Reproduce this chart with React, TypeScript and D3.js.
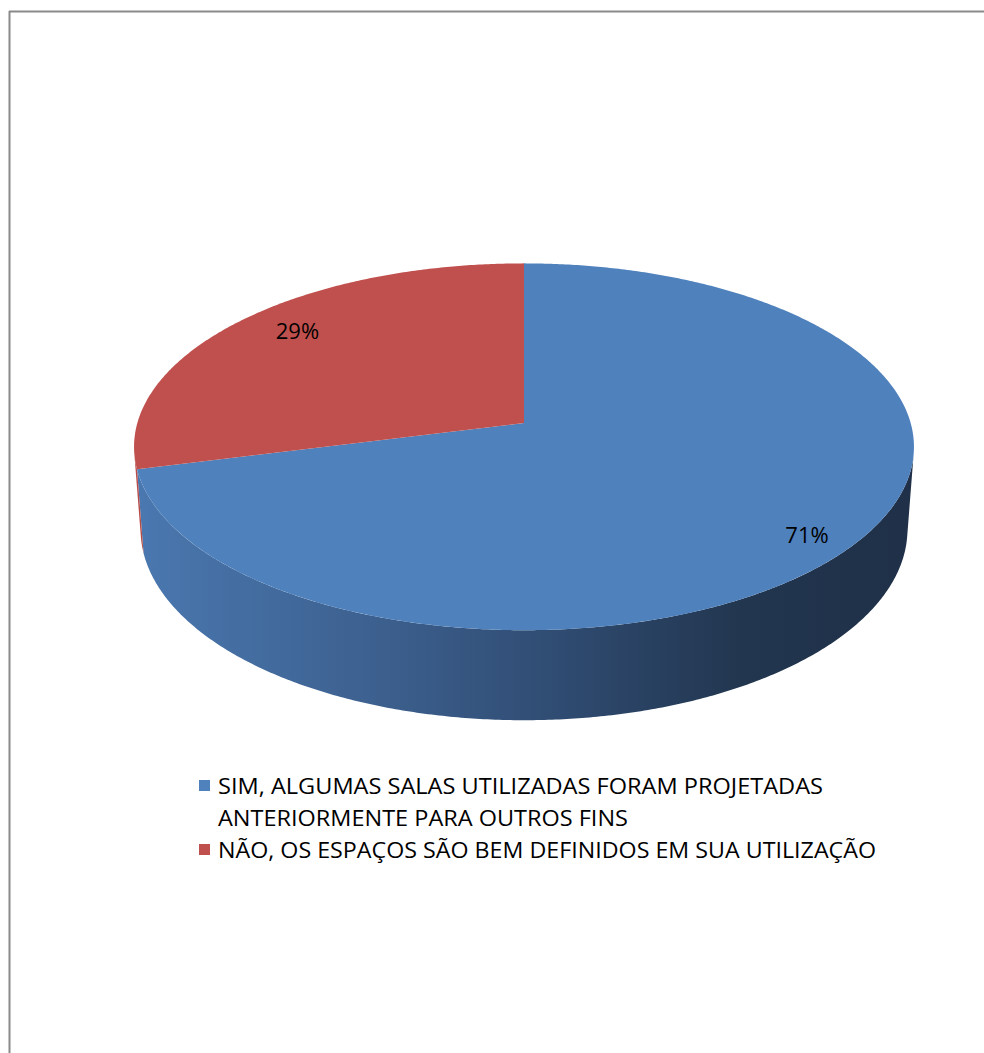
import React from "react";
import * as d3 from "d3";

// Survey answers and their shares (percent)
const categories = ["SIM", "NÃO"];
const values = [71, 29];
const percentLabels = ["71%", "29%"];
const legendLines = [
  ["SIM, ALGUMAS SALAS UTILIZADAS FORAM PROJETADAS", "ANTERIORMENTE PARA OUTROS FINS"],
  ["NÃO, OS ESPAÇOS SÃO BEM DEFINIDOS EM SUA UTILIZAÇÃO"],
];
const topColors = ["#4f81bd", "#c0504d"];

const W = 984;
const H = 1053;

// Perspective camera for the tilted 3D pie
const CX = 524;
const CY = 423;
const FOCAL = 2637;
const DIST = 6.82;
const ALPHA = (27.8 * Math.PI) / 180;
const THICK = 0.2435;
const SA = Math.sin(ALPHA);
const CA = Math.cos(ALPHA);

function project(x: number, y: number, z: number): [number, number] {
  const vx = x;
  const vy = y - DIST * SA;
  const vz = z - DIST * CA;
  const depth = -vy * SA - vz * CA;
  const up = vy * CA - vz * SA;
  return [CX + (FOCAL * vx) / depth, CY - (FOCAL * up) / depth];
}

function arcPoints(a: number, b: number, y: number, r = 1): [number, number][] {
  const n = Math.max(2, Math.ceil(Math.abs(b - a) / (Math.PI / 360)));
  const pts: [number, number][] = [];
  for (let i = 0; i <= n; i++) {
    const phi = a + ((b - a) * i) / n;
    pts.push(project(r * Math.cos(phi), y, r * Math.sin(phi)));
  }
  return pts;
}

const line = d3.line<[number, number]>();

export default function App() {
  const pie = d3
    .pie<number>()
    .sort(null)
    .startAngle(0)
    .endAngle(2 * Math.PI)(values);

  // d3 angle 0 = 12 o'clock clockwise -> disc angle phi
  const toPhi = (a: number) => a - Math.PI / 2;

  // visible band of the cylinder wall
  const s0 = Math.asin(1 / (DIST * CA));
  const visA = s0;
  const visB = Math.PI - s0;

  const sides: { d: string; fill: string }[] = [];
  const tops: { d: string; fill: string }[] = [];
  const labels: { x: number; y: number; text: string }[] = [];

  pie.forEach((p, i) => {
    const a = toPhi(p.startAngle);
    const b = toPhi(p.endAngle);
    // top face
    const pts = [project(0, 0, 0), ...arcPoints(a, b, 0)];
    tops.push({ d: line(pts)! + "Z", fill: topColors[i] });

    // wall: intersect slice with the visible band (check both 2π offsets)
    for (const off of [0, 2 * Math.PI, -2 * Math.PI]) {
      const lo = Math.max(a + off, visA);
      const hi = Math.min(b + off, visB);
      if (hi > lo) {
        const topArc = arcPoints(lo, hi, 0);
        const botArc = arcPoints(hi, lo, -THICK);
        sides.push({
          d: line([...topArc, ...botArc])! + "Z",
          fill: i === 0 ? "url(#blueSide)" : "url(#redSide)",
        });
      }
    }

    const mid = toPhi((p.startAngle + p.endAngle) / 2);
    const r = 0.84;
    const [lx, ly] = project(r * Math.cos(mid), 0, r * Math.sin(mid));
    labels.push({ x: lx, y: ly, text: percentLabels[i] });
  });

  const font = "'Open Sans', 'DejaVu Sans', sans-serif";
  const legendX = 199;
  const textX = 218;
  const rowStep = 32;
  const firstBaseline = 794;
  const lineWidths: Record<string, number> = {
    "SIM, ALGUMAS SALAS UTILIZADAS FORAM PROJETADAS": 605,
    "ANTERIORMENTE PARA OUTROS FINS": 410,
    "NÃO, OS ESPAÇOS SÃO BEM DEFINIDOS EM SUA UTILIZAÇÃO": 658,
  };

  let row = 0;
  const legendItems: JSX.Element[] = [];
  legendLines.forEach((lines, i) => {
    const base = firstBaseline + row * rowStep;
    legendItems.push(
      <rect
        key={"sw" + i}
        x={legendX}
        y={base - 14}
        width={11}
        height={11}
        fill={topColors[i]}
      />
    );
    lines.forEach((t, j) => {
      legendItems.push(
        <text
          key={"lt" + i + "-" + j}
          x={textX}
          y={firstBaseline + (row + j) * rowStep}
          fontFamily={font}
          fontSize={21}
          fill="#000"
          textLength={lineWidths[t]}
          lengthAdjust="spacingAndGlyphs"
        >
          {t}
        </text>
      );
    });
    row += lines.length;
  });

  return (
    <svg
      width={W}
      height={H}
      style={{ position: "absolute", left: 0, top: 0, background: "#fff" }}
    >
      <defs>
        <linearGradient id="blueSide" gradientUnits="userSpaceOnUse" x1={134} x2={914} y1={0} y2={0}>
          <stop offset="0" stopColor="#4a78b0" />
          <stop offset="0.3" stopColor="#3d6190" />
          <stop offset="0.55" stopColor="#2f4b71" />
          <stop offset="0.78" stopColor="#22364f" />
          <stop offset="1" stopColor="#1f3048" />
        </linearGradient>
        <linearGradient id="redSide" gradientUnits="userSpaceOnUse" x1={134} x2={914} y1={0} y2={0}>
          <stop offset="0" stopColor="#b84c49" />
          <stop offset="1" stopColor="#4a1f1e" />
        </linearGradient>
      </defs>
      {/* chart-area frame: only its left and top edges fall inside the page */}
      <line x1={9.5} y1={11} x2={9.5} y2={H} stroke="#8a8a8a" strokeWidth={2} />
      <line x1={9} y1={11.5} x2={W} y2={11.5} stroke="#8a8a8a" strokeWidth={2} />
      <g>
        {sides.map((s, i) => (
          <path key={"s" + i} d={s.d} fill={s.fill} />
        ))}
        {tops.map((t, i) => (
          <path key={"t" + i} d={t.d} fill={t.fill} data-cat={categories[i]} />
        ))}
      </g>
      {labels.map((l, i) => (
        <text
          key={"pl" + i}
          x={l.x}
          y={l.y}
          dx={i === 0 ? 8 : 14}
          dy={i === 0 ? 12 : -6}
          textAnchor="middle"
          dominantBaseline="central"
          fontFamily={font}
          fontSize={22}
          fill="#000"
        >
          {l.text}
        </text>
      ))}
      {legendItems}
    </svg>
  );
}
